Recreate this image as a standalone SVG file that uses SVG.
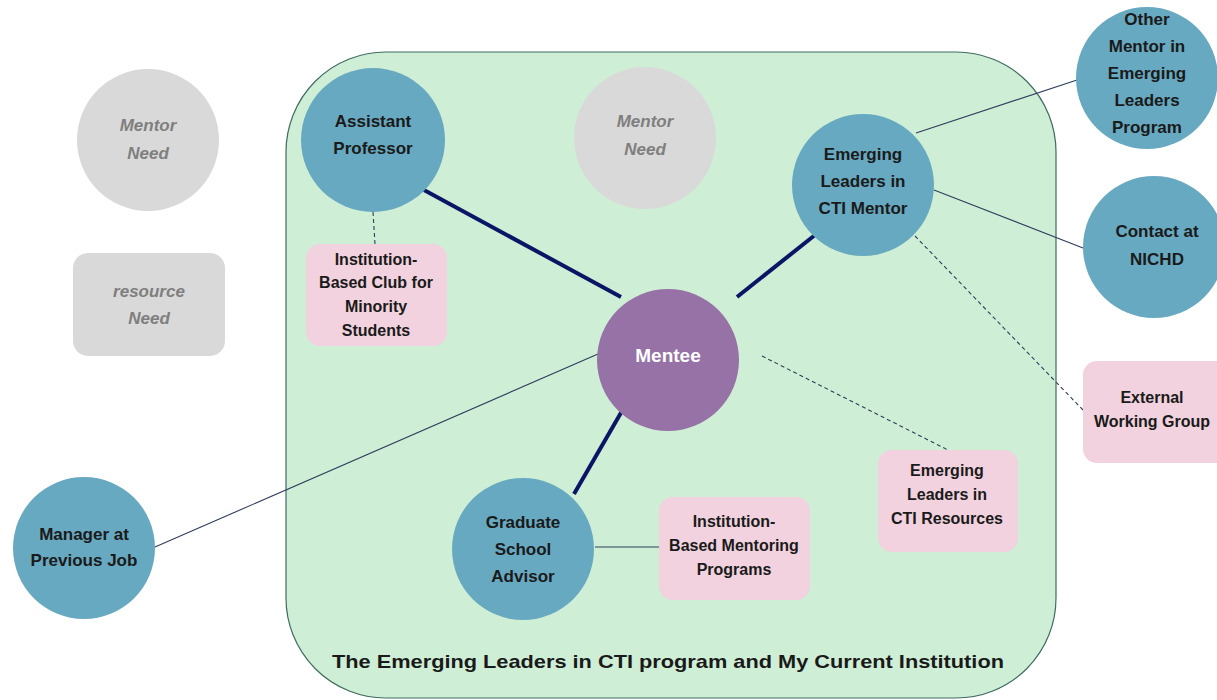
<svg xmlns="http://www.w3.org/2000/svg" width="1217" height="700" viewBox="0 0 1217 700">
  <style>
    .lbl { font-family: "Liberation Sans", Arial, sans-serif; font-weight: bold; font-size: 17px; fill: #1a1a1a; text-anchor: middle; dominant-baseline: middle; }
    .need { font-family: "Liberation Sans", Arial, sans-serif; font-weight: bold; font-style: italic; font-size: 17px; fill: #7f7f7f; text-anchor: middle; dominant-baseline: middle; }
    .person { fill: #67a9c1; }
    .gray { fill: #d9d9d9; }
    .res { fill: #f1d2de; }
    .strong { stroke: #0b1566; stroke-width: 4; fill: none; }
    .thin { stroke: #2f3d5c; stroke-width: 1.1; fill: none; }
    .dash { stroke: #2f3d5c; stroke-width: 1.1; stroke-dasharray: 4 3; fill: none; }
  </style>

  <rect width="1217" height="700" fill="#ffffff"/>

  <!-- program / institution boundary -->
  <g id="boundary">
    <rect x="286" y="52" width="770" height="646" rx="100" ry="100" fill="#cfeed6" stroke="#3f6b60" stroke-width="1.2"/>
    <text class="lbl" x="668" y="663" style="font-size:19px" textLength="672" lengthAdjust="spacingAndGlyphs">The Emerging Leaders in CTI program and My Current Institution</text>
  </g>

  <!-- connectors -->
  <g id="connectors">
    <line class="strong" x1="424" y1="190" x2="621" y2="297"/>
    <line class="strong" x1="737" y1="297" x2="815" y2="235"/>
    <line class="strong" x1="622" y1="411" x2="574" y2="494"/>
    <line class="thin" x1="598" y1="354" x2="155" y2="547"/>
    <line class="dash" x1="762" y1="356" x2="948" y2="450"/>
    <line class="thin" x1="595" y1="547" x2="659" y2="547"/>
    <line class="thin" x1="916" y1="133" x2="1077" y2="80"/>
    <line class="thin" x1="934" y1="190" x2="1083" y2="248"/>
    <line class="dash" x1="915" y1="236" x2="1083" y2="410"/>
    <line class="dash" x1="373" y1="212" x2="375" y2="244"/>
  </g>

  <g id="mentor-need-left">
    <circle class="gray" cx="148" cy="140" r="71"/>
    <text class="need" x="148" y="127">Mentor</text>
    <text class="need" x="148" y="155">Need</text>
  </g>

  <g id="resource-need">
    <rect class="gray" x="73" y="253" width="152" height="103" rx="15"/>
    <text class="need" x="149" y="293">resource</text>
    <text class="need" x="149" y="320">Need</text>
  </g>

  <g id="mentor-need-inner">
    <circle class="gray" cx="645" cy="138" r="71"/>
    <text class="need" x="645" y="123">Mentor</text>
    <text class="need" x="645" y="151">Need</text>
  </g>

  <g id="assistant-professor">
    <circle class="person" cx="373" cy="140" r="72"/>
    <text class="lbl" x="373" y="123">Assistant</text>
    <text class="lbl" x="373" y="150">Professor</text>
  </g>

  <g id="club">
    <rect class="res" x="306" y="244" width="141" height="102" rx="14"/>
    <text class="lbl" x="376" y="261" style="font-size:16px">Institution-</text>
    <text class="lbl" x="376" y="284" style="font-size:16px">Based Club for</text>
    <text class="lbl" x="376" y="308" style="font-size:16px">Minority</text>
    <text class="lbl" x="376" y="332" style="font-size:16px">Students</text>
  </g>

  <g id="mentee">
    <circle fill="#9672a6" cx="668" cy="360" r="71"/>
    <text class="lbl" x="668" y="357" style="fill:#ffffff;font-size:19px">Mentee</text>
  </g>

  <g id="cti-mentor">
    <circle class="person" cx="863" cy="185" r="71"/>
    <text class="lbl" x="863" y="156">Emerging</text>
    <text class="lbl" x="863" y="183">Leaders in</text>
    <text class="lbl" x="863" y="210">CTI Mentor</text>
  </g>

  <g id="other-mentor">
    <circle class="person" cx="1147" cy="78" r="71"/>
    <text class="lbl" x="1147" y="21">Other</text>
    <text class="lbl" x="1147" y="48">Mentor in</text>
    <text class="lbl" x="1147" y="75">Emerging</text>
    <text class="lbl" x="1147" y="102">Leaders</text>
    <text class="lbl" x="1147" y="129">Program</text>
  </g>

  <g id="nichd-contact">
    <circle class="person" cx="1154" cy="247" r="71"/>
    <text class="lbl" x="1157" y="233">Contact at</text>
    <text class="lbl" x="1157" y="261">NICHD</text>
  </g>

  <g id="external-group">
    <rect class="res" x="1083" y="361" width="150" height="102" rx="14"/>
    <text class="lbl" x="1152" y="399" style="font-size:16px">External</text>
    <text class="lbl" x="1152" y="423" style="font-size:16px">Working Group</text>
  </g>

  <g id="cti-resources">
    <rect class="res" x="878" y="450" width="140" height="102" rx="14"/>
    <text class="lbl" x="947" y="472" style="font-size:16px">Emerging</text>
    <text class="lbl" x="947" y="496" style="font-size:16px">Leaders in</text>
    <text class="lbl" x="947" y="520" style="font-size:16px">CTI Resources</text>
  </g>

  <g id="mentoring-programs">
    <rect class="res" x="659" y="497" width="151" height="103" rx="14"/>
    <text class="lbl" x="734" y="523" style="font-size:16px">Institution-</text>
    <text class="lbl" x="734" y="547" style="font-size:16px">Based Mentoring</text>
    <text class="lbl" x="734" y="571" style="font-size:16px">Programs</text>
  </g>

  <g id="grad-advisor">
    <circle class="person" cx="523" cy="549" r="71"/>
    <text class="lbl" x="523" y="524">Graduate</text>
    <text class="lbl" x="523" y="551">School</text>
    <text class="lbl" x="523" y="578">Advisor</text>
  </g>

  <g id="prev-manager">
    <circle class="person" cx="84" cy="548" r="71"/>
    <text class="lbl" x="84" y="536">Manager at</text>
    <text class="lbl" x="84" y="562">Previous Job</text>
  </g>
</svg>
